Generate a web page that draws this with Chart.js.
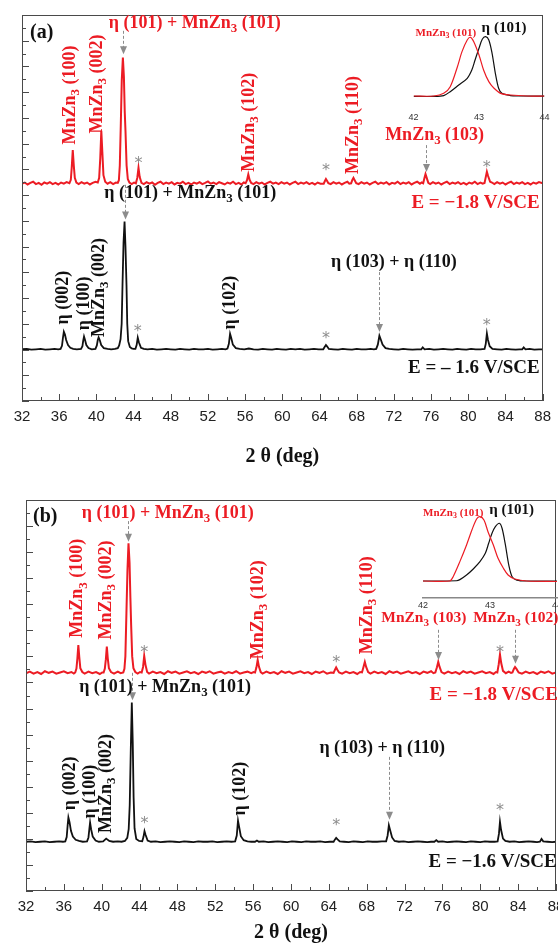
<!DOCTYPE html>
<html><head><meta charset="utf-8">
<script src="https://cdn.jsdelivr.net/npm/chart.js@4.4.1/dist/chart.umd.min.js"></script>
<style>
html,body{margin:0;padding:0;background:#fff;overflow:hidden;width:558px;height:945px;}
#wrap{position:relative;width:558px;height:945px;overflow:hidden;background:#fff;}
canvas{position:absolute;display:block;}
</style></head><body><div id="wrap">
<canvas id="ca" width="558" height="472" style="left:0;top:0;width:558px;height:472px"></canvas>
<canvas id="ia" width="158" height="118" style="left:400px;top:10px;width:158px;height:118px"></canvas>
<canvas id="cb" width="600" height="473" style="left:0;top:472px;width:600px;height:473px"></canvas>
<canvas id="ib" width="170" height="118" style="left:400px;top:495px;width:170px;height:118px"></canvas>
</div>
<script>
// ---------------- DATA (2θ in degrees, intensity in arbitrary offset units) ----------------
const xTicksMain = [32,36,40,44,48,52,56,60,64,68,72,76,80,84,88];
const xTicksInset = [42,43,44];

// Panel (a), E = -1.8 V/SCE (red)
const redA = [[32.0,56.3],[32.3,56.6],[32.6,56.1],[32.9,56.5],[33.2,56.8],[33.5,56.2],[33.8,56.5],[34.1,56.0],[34.4,56.6],[34.7,56.3],[35.0,56.7],[35.3,56.2],[35.6,56.5],[35.9,56.1],[36.2,56.6],[36.5,56.3],[36.8,56.7],
[37.1,56.4],[37.25,57.3],[37.35,60.5],[37.46,65.0],[37.57,61.0],[37.68,57.8],[37.85,56.6],[38.1,56.2],[38.4,56.7],[38.7,56.3],[39.0,56.6],[39.3,56.1],[39.6,56.5],[39.9,56.8],
[40.15,56.6],[40.3,57.8],[40.42,63.0],[40.53,70.0],[40.64,64.5],[40.76,58.5],[40.95,56.8],[41.2,56.3],[41.5,56.7],[41.8,56.2],[42.1,56.6],
[42.3,56.5],[42.42,57.2],[42.52,61.0],[42.63,72.0],[42.73,83.0],[42.85,89.0],[42.96,84.0],[43.05,75.0],[43.13,70.0],[43.25,61.0],[43.38,57.5],[43.55,56.6],[43.8,56.2],[44.05,56.6],
[44.25,56.4],[44.4,57.8],[44.53,60.4],[44.66,58.0],[44.85,56.5],[45.1,56.2],[45.4,56.7],[45.7,56.3],[46.0,56.6],[46.3,56.0],[46.6,56.5],[46.9,56.8],[47.2,56.2],[47.5,56.6],[47.8,56.3],[48.1,56.7],[48.4,56.1],[48.7,56.5],[49.0,56.3],[49.3,56.8],[49.6,56.2],[49.9,56.5],[50.2,56.1],[50.5,56.6],[50.8,56.3],[51.1,56.7],[51.4,56.2],[51.7,56.5],[52.0,56.9],[52.3,56.3],[52.6,56.6],[52.9,56.2],[53.2,56.7],[53.5,56.4],[53.8,56.1],[54.1,56.6],[54.4,56.3],[54.7,56.8],[55.0,56.2],[55.3,56.5],[55.6,56.1],[55.85,56.6],
[56.05,56.4],[56.2,57.2],[56.34,58.7],[56.48,57.3],[56.65,56.5],[56.9,56.2],[57.2,56.7],[57.5,56.3],[57.8,56.6],[58.1,56.1],[58.4,56.5],[58.7,56.8],[59.0,56.3],[59.3,56.6],[59.6,56.2],[59.9,56.7],[60.2,56.3],[60.5,56.6],[60.8,56.1],[61.1,56.5],[61.4,56.8],[61.7,56.2],[62.0,56.6],[62.3,56.3],[62.6,56.7],[62.9,56.2],[63.2,56.5],[63.5,56.1],[63.8,56.6],[64.1,56.3],
[64.45,56.3],[64.58,57.0],[64.69,57.5],[64.82,57.0],[64.95,56.4],[65.2,56.2],[65.5,56.7],[65.8,56.3],[66.1,56.6],[66.4,56.1],[66.7,56.5],[67.0,56.8],[67.2,56.3],
[67.4,56.4],[67.53,57.3],[67.65,57.8],[67.78,57.2],[67.95,56.4],[68.2,56.2],[68.5,56.7],[68.8,56.3],[69.1,56.6],[69.4,56.1],[69.7,56.5],[70.0,56.8],[70.3,56.2],[70.6,56.6],[70.9,56.3],[71.2,56.7],[71.5,56.1],[71.8,56.5],[72.1,56.3],[72.4,56.8],[72.7,56.2],[73.0,56.6],[73.3,56.3],[73.6,56.7],[73.9,56.1],[74.2,56.5],[74.5,56.8],[74.8,56.3],[75.0,56.6],
[75.15,56.4],[75.28,57.7],[75.4,58.8],[75.53,57.8],[75.7,56.5],[75.9,56.2],[76.2,56.7],[76.5,56.3],[76.8,56.6],[77.1,56.1],[77.4,56.5],[77.7,56.8],[78.0,56.2],[78.3,56.6],[78.6,56.3],[78.9,56.7],[79.2,56.2],[79.5,56.5],[79.8,56.1],[80.1,56.6],[80.4,56.3],[80.7,56.8],[81.0,56.2],[81.3,56.6],[81.55,56.3],
[81.75,56.5],[81.88,58.0],[82.0,59.4],[82.13,58.3],[82.35,56.8],[82.55,56.6],[82.8,56.2],[83.1,56.7],[83.4,56.3],[83.7,56.6],[84.0,56.1],[84.3,56.5],[84.6,56.8],[84.9,56.2],[85.2,56.6],[85.5,56.3],[85.8,56.7],[86.1,56.2],[86.4,56.5],[86.7,56.1],[87.0,56.6],[87.3,56.3],[87.6,56.7],[88.0,56.4]];

// Panel (a), E = -1.6 V/SCE (black)
const blackA = [[32.0,13.4],[32.5,13.5],[33.0,13.3],[33.5,13.4],[34.0,13.5],[34.5,13.3],[35.0,13.4],[35.5,13.5],[35.9,13.4],
[36.15,13.5],[36.3,14.3],[36.4,16.3],[36.5,17.95],[36.62,17.2],[36.75,15.8],[36.95,14.5],[37.2,13.8],[37.5,13.5],[37.9,13.4],
[38.35,13.5],[38.5,14.2],[38.58,15.6],[38.67,16.7],[38.78,15.8],[38.92,14.5],[39.15,13.7],[39.5,13.4],
[39.9,13.5],[40.05,14.4],[40.15,15.8],[40.24,16.5],[40.36,15.8],[40.52,14.5],[40.8,13.7],[41.2,13.5],[41.6,13.4],[42.0,13.5],
[42.3,13.7],[42.45,14.4],[42.6,16.0],[42.72,20.0],[42.81,30.0],[42.92,41.0],[43.03,46.5],[43.13,40.0],[43.24,30.0],[43.32,20.0],[43.42,15.5],[43.6,14.0],[43.8,13.6],[44.0,13.5],
[44.2,13.5],[44.33,14.5],[44.45,16.4],[44.57,15.2],[44.8,13.8],[45.1,13.5],[45.5,13.4],[46.0,13.5],[46.5,13.3],[47.0,13.4],[47.5,13.5],[48.0,13.4],[48.5,13.3],[49.0,13.5],[49.5,13.4],[50.0,13.3],[50.5,13.5],[51.0,13.4],[51.5,13.4],[52.0,13.5],[52.5,13.3],[53.0,13.4],[53.5,13.5],[53.9,13.4],
[54.1,13.6],[54.25,14.8],[54.38,17.4],[54.5,16.4],[54.68,14.6],[55.0,13.7],[55.4,13.5],[55.9,13.4],[56.4,13.6],[56.9,13.4],[57.4,13.3],[57.9,13.5],[58.4,13.4],[58.9,13.3],[59.4,13.5],[59.9,13.4],[60.4,13.3],[60.9,13.5],[61.4,13.4],[61.9,13.5],[62.4,13.3],[62.9,13.4],[63.4,13.5],[63.9,13.4],
[64.4,13.4],[64.55,14.0],[64.69,14.5],[64.83,14.1],[65.0,13.5],[65.5,13.4],[66.0,13.3],[66.5,13.5],[67.0,13.4],[67.5,13.3],[68.0,13.5],[68.5,13.4],[69.0,13.4],[69.5,13.5],[69.85,13.4],
[70.1,13.5],[70.27,14.6],[70.44,16.9],[70.58,16.0],[70.78,14.6],[71.1,13.7],[71.5,13.5],[72.0,13.4],[72.5,13.3],[73.0,13.5],[73.5,13.4],[74.0,13.3],[74.5,13.4],
[74.95,13.4],[75.1,13.9],[75.3,13.4],[75.8,13.5],[76.3,13.3],[76.8,13.4],[77.3,13.5],[77.8,13.4],[78.3,13.3],[78.8,13.5],[79.3,13.4],[79.8,13.3],[80.3,13.5],[80.8,13.4],[81.3,13.4],
[81.75,13.5],[81.88,14.8],[82.0,17.5],[82.12,15.8],[82.3,14.2],[82.6,13.5],[83.1,13.4],[83.6,13.3],[84.1,13.5],[84.6,13.4],[85.1,13.3],[85.5,13.4],
[85.8,13.4],[85.96,13.9],[86.15,13.4],[86.6,13.5],[87.1,13.3],[87.6,13.4],[88.0,13.4]];

// Panel (b), E = -1.8 V/SCE (red)
const redB = [[32.0,55.7],[32.4,56.1],[32.8,55.6],[33.2,56.0],[33.6,55.5],[34.0,56.2],[34.4,55.8],[34.8,56.1],[35.2,55.6],[35.6,55.9],[36.0,56.2],[36.4,55.7],[36.8,56.0],[37.05,55.6],
[37.2,55.9],[37.33,56.9],[37.43,59.5],[37.53,62.9],[37.63,59.8],[37.74,57.0],[37.95,56.0],[38.2,55.6],[38.6,56.1],[39.0,55.7],[39.4,56.0],[39.8,55.5],[40.05,55.9],
[40.2,55.9],[40.33,56.9],[40.44,59.3],[40.54,62.5],[40.64,59.5],[40.76,57.0],[40.98,56.0],[41.3,55.6],[41.7,56.1],[42.0,55.7],
[42.28,55.9],[42.4,56.8],[42.5,60.0],[42.61,71.0],[42.72,82.0],[42.83,88.9],[42.94,84.0],[43.03,75.0],[43.11,68.0],[43.22,60.0],[43.35,57.0],[43.55,56.0],[43.8,55.6],[44.05,56.0],
[44.22,55.9],[44.37,57.3],[44.49,60.1],[44.62,57.9],[44.8,56.0],[45.0,55.6],[45.4,56.1],[45.8,55.7],[46.2,56.0],[46.6,55.5],[47.0,56.2],[47.4,55.8],[47.8,56.1],[48.2,55.6],[48.6,55.9],[49.0,56.2],[49.4,55.7],[49.8,56.0],[50.2,55.5],[50.6,56.1],[51.0,55.8],[51.4,56.2],[51.8,55.6],[52.2,55.9],[52.6,56.1],[53.0,55.6],[53.4,56.0],[53.8,55.7],[54.2,56.2],[54.6,55.6],[55.0,55.9],[55.4,56.1],[55.8,55.7],[56.05,56.0],
[56.2,55.9],[56.35,57.2],[56.48,59.1],[56.61,57.4],[56.8,56.0],[57.0,55.6],[57.4,56.1],[57.8,55.7],[58.2,56.0],[58.6,55.5],[59.0,56.2],[59.4,55.8],[59.8,56.1],[60.2,55.6],[60.6,55.9],[61.0,56.2],[61.4,55.7],[61.8,56.0],[62.2,55.5],[62.6,56.1],[63.0,55.8],[63.4,56.2],[63.8,55.6],[64.2,55.9],
[64.5,55.8],[64.65,56.6],[64.77,57.2],[64.9,56.6],[65.08,55.9],[65.4,55.6],[65.8,56.1],[66.2,55.7],[66.6,56.0],[67.0,55.5],[67.3,56.0],
[67.5,55.9],[67.66,57.3],[67.8,58.6],[67.94,57.3],[68.15,56.0],[68.4,55.6],[68.8,56.1],[69.2,55.7],[69.6,56.0],[70.0,55.5],[70.4,56.2],[70.8,55.8],[71.2,56.1],[71.6,55.6],[72.0,55.9],[72.4,56.2],[72.8,55.7],[73.2,56.0],[73.6,55.5],[74.0,56.1],[74.4,55.8],[74.8,56.2],[75.05,55.7],
[75.25,55.9],[75.42,57.2],[75.56,58.6],[75.7,57.3],[75.9,56.0],[76.2,55.6],[76.6,56.1],[77.0,55.7],[77.4,56.0],[77.8,55.5],[78.2,56.2],[78.6,55.8],[79.0,56.1],[79.4,55.6],[79.8,55.9],[80.2,56.2],[80.6,55.7],[81.0,56.0],[81.4,55.5],[81.65,56.0],
[81.8,55.9],[81.95,58.0],[82.08,60.5],[82.21,58.3],[82.4,56.3],[82.7,55.7],[83.0,56.1],[83.25,55.8],
[83.4,55.9],[83.55,56.8],[83.67,57.3],[83.82,56.8],[84.05,55.9],[84.4,55.6],[84.8,56.1],[85.2,55.7],[85.6,56.0],[86.0,55.5],[86.4,56.1],[86.8,55.8],[87.2,56.2],[87.6,55.6],[88.0,55.9]];

// Panel (b), E = -1.6 V/SCE (black)
const blackB = [[32.0,12.6],[32.5,12.7],[33.0,12.5],[33.5,12.6],[34.0,12.7],[34.5,12.5],[35.0,12.6],[35.5,12.7],[35.9,12.6],
[36.15,12.7],[36.3,13.8],[36.4,16.8],[36.48,18.8],[36.6,17.6],[36.75,15.4],[36.95,13.9],[37.25,13.1],[37.6,12.8],[38.0,12.6],
[38.45,12.7],[38.6,13.7],[38.69,15.8],[38.77,17.5],[38.88,15.8],[39.05,13.9],[39.35,12.9],[39.7,12.6],
[40.15,12.7],[40.47,13.4],[40.8,12.8],[41.2,12.6],[41.7,12.7],[42.1,12.6],
[42.45,12.8],[42.7,13.6],[42.85,15.8],[42.96,22.0],[43.07,36.0],[43.18,48.2],[43.28,38.0],[43.37,24.0],[43.47,16.0],[43.65,13.3],[43.95,12.8],
[44.28,12.7],[44.41,13.8],[44.52,15.3],[44.64,14.3],[44.85,12.9],[45.2,12.6],[45.7,12.7],[46.2,12.5],[46.7,12.6],[47.2,12.7],[47.7,12.6],[48.2,12.5],[48.7,12.7],[49.2,12.6],[49.7,12.5],[50.2,12.7],[50.7,12.6],[51.2,12.6],[51.7,12.7],[52.2,12.5],[52.7,12.6],[53.2,12.7],[53.7,12.6],
[54.1,12.7],[54.27,14.2],[54.4,18.0],[54.52,16.4],[54.7,14.0],[55.0,13.0],[55.4,12.7],[55.8,12.6],
[56.2,12.6],[56.4,12.9],[56.6,12.6],[57.1,12.7],[57.6,12.5],[58.1,12.6],[58.6,12.7],[59.1,12.6],[59.6,12.5],[60.1,12.7],[60.6,12.6],[61.1,12.5],[61.6,12.7],[62.1,12.6],[62.6,12.6],[63.1,12.7],[63.6,12.5],[64.1,12.6],
[64.5,12.6],[64.65,13.2],[64.77,13.6],[64.92,13.2],[65.15,12.7],[65.6,12.6],[66.1,12.5],[66.6,12.7],[67.1,12.6],[67.6,12.5],[68.1,12.7],[68.6,12.6],[69.1,12.6],[69.6,12.7],
[70.05,12.7],[70.21,14.2],[70.34,16.8],[70.47,15.6],[70.68,13.7],[70.95,12.8],[71.4,12.6],[71.9,12.7],[72.4,12.5],[72.9,12.6],[73.4,12.7],[73.9,12.6],[74.4,12.5],[74.8,12.6],
[75.15,12.6],[75.35,13.0],[75.55,12.6],[76.0,12.7],[76.5,12.5],[77.0,12.6],[77.5,12.7],[78.0,12.6],[78.5,12.5],[79.0,12.7],[79.5,12.6],[80.0,12.5],[80.5,12.7],[81.0,12.6],[81.5,12.6],
[81.83,12.7],[81.97,14.6],[82.08,17.7],[82.2,15.6],[82.4,13.4],[82.65,12.8],[83.1,12.6],[83.6,12.7],[84.1,12.5],[84.6,12.6],[85.1,12.7],[85.6,12.6],[86.0,12.5],
[86.3,12.6],[86.47,13.3],[86.65,12.7],[87.1,12.6],[87.6,12.5],[88.0,12.6]];

// Insets: zoom on the (101) reflection, 42-44°
const insetA_red = [[42.0,9.5],[42.31,9.5],[42.46,12.7],[42.56,20.6],[42.67,44.4],[42.74,62.3],[42.82,76.2],[42.87,79.4],[42.92,74.2],[43.0,58.3],[43.07,40.5],[43.15,26.6],[43.23,18.7],[43.33,12.7],[43.48,10.7],[43.74,9.5],[44.0,9.5]];
const insetA_black = [[42.0,9.0],[42.3,9.0],[42.46,10.0],[42.56,14.7],[42.69,22.6],[42.82,30.6],[42.89,40.5],[42.94,52.4],[43.0,66.3],[43.05,77.0],[43.1,80.1],[43.15,76.2],[43.2,60.3],[43.25,36.5],[43.3,18.7],[43.35,12.7],[43.48,10.0],[43.6,9.5],[44.0,9.3]];
const insetB_red = [[42.0,18.0],[42.4,18.0],[42.45,22.7],[42.55,38.9],[42.65,56.9],[42.73,73.0],[42.8,84.9],[42.85,87.4],[42.91,83.8],[42.97,71.2],[43.05,56.9],[43.12,42.5],[43.2,31.7],[43.27,24.5],[43.37,20.2],[43.55,18.0],[44.0,17.5]];
const insetB_black = [[42.0,18.0],[42.5,18.3],[42.55,19.5],[42.65,24.5],[42.75,31.0],[42.85,38.9],[42.93,47.9],[42.98,58.7],[43.03,69.5],[43.08,76.6],[43.14,80.3],[43.18,74.9],[43.23,56.9],[43.28,35.3],[43.33,22.7],[43.4,19.0],[43.55,18.0],[44.0,18.0]];

// Annotation texts: [text, x(2θ), y, colour key, size key, align, rotated]
const labelsA = [
 ['(a)',32.86,95.3,'k','panel','left',0],
 ['η (101) + MnZn_3 (101)',50.58,97.9,'r','lab','center',0],
 ['MnZn_3 (100)',37.21,79.3,'r','lab','center',1],
 ['MnZn_3 (002)',40.14,82.1,'r','lab','center',1],
 ['MnZn_3 (102)',56.41,72.2,'r','lab','center',1],
 ['MnZn_3 (110)',67.65,71.5,'r','lab','center',1],
 ['MnZn_3 (103)',76.38,68.9,'r','lab','center',0],
 ['E = −1.8 V/SCE',87.68,51.3,'r','pot','right',0],
 ['η (101) + MnZn_3 (101)',50.1,53.9,'k','lab','center',0],
 ['η (002)',36.42,26.8,'k','lab','center',1],
 ['η (100)',38.67,25.3,'k','lab','center',1],
 ['MnZn_3 (002)',40.35,29.4,'k','lab','center',1],
 ['η (102)',54.38,25.5,'k','lab','center',1],
 ['η (103) + η (110)',71.99,36.0,'k','lab','center',0],
 ['E = – 1.6 V/SCE',87.68,8.5,'k','pot','right',0]
];
const labelsB = [
 ['(b)',32.74,95.7,'k','panel','left',0],
 ['η (101) + MnZn_3 (101)',46.97,96.7,'r','lab','center',0],
 ['MnZn_3 (100)',37.47,77.4,'r','lab','center',1],
 ['MnZn_3 (002)',40.47,77.0,'r','lab','center',1],
 ['MnZn_3 (102)',56.55,71.9,'r','lab','center',1],
 ['MnZn_3 (110)',68.05,73.1,'r','lab','center',1],
 ['MnZn_3 (103)',74.04,69.8,'r','labS','center',0],
 ['MnZn_3 (102)',83.75,69.8,'r','labS','center',0],
 ['E = −1.8 V/SCE',88.19,50.1,'r','pot','right',0],
 ['η (101) + MnZn_3 (101)',46.7,52.2,'k','lab','center',0],
 ['η (002)',36.66,27.5,'k','lab','center',1],
 ['η (100)',38.77,25.4,'k','lab','center',1],
 ['MnZn_3 (002)',40.47,27.5,'k','lab','center',1],
 ['η (102)',54.65,26.2,'k','lab','center',1],
 ['η (103) + η (110)',69.64,36.6,'k','lab','center',0],
 ['E = −1.6 V/SCE',88.08,7.4,'k','pot','right',0]
];
const insetLabelsA = [['MnZn_3 (101)',42.03,84.5,'r','insS','left',0],['η (101)',43.04,90.5,'k','insL','left',0]];
const insetLabelsB = [['MnZn_3 (101)',42.0,91.3,'r','insS','left',0],['η (101)',42.99,94.6,'k','insL','left',0]];

// Dashed arrows: [x, from y, to y]
const arrowsA = [[42.9,95.9,89.8],[75.4,66.3,59.3],[43.03,56.0,47.0],[70.44,33.4,17.9]];
const arrowsB = [[42.83,94.6,89.3],[75.56,66.8,59.1],[83.67,66.8,58.1],[43.18,55.8,48.8],[70.34,34.3,18.2]];
// Asterisks (substrate peaks): [x, y]
const starsA = [[44.53,62.4],[64.69,60.6],[82.0,61.4],[44.45,18.9],[64.69,17.1],[82.0,20.5]];
const starsB = [[44.49,61.9],[64.77,59.3],[82.08,61.9],[44.52,18.2],[64.77,17.6],[82.08,21.5]];

// ---------------- STYLE ----------------
const COL = {r:'#ec1c24', k:'#111111'};
const GRAY = '#8c8c8c', AXIS = '#4a4a4a';
const SERIF = '"Liberation Serif", "Times New Roman", serif';
const SANS = '"Liberation Sans", Arial, sans-serif';
const SIZE = {panel:20, lab:18, labS:15.5, pot:19, insS:11, insL:15};

function toXY(a){ return a.map(p => ({x:p[0], y:p[1]})); }

function richParts(str){
  const parts=[]; const re=/_(\d)/g; let last=0, m;
  while((m=re.exec(str))){ if(m.index>last) parts.push({t:str.slice(last,m.index),sub:false}); parts.push({t:m[1],sub:true}); last=re.lastIndex; }
  if(last<str.length) parts.push({t:str.slice(last),sub:false});
  return parts;
}
function drawRich(ctx, str, x, y, size, color, align, rot){
  ctx.save(); ctx.translate(x,y); if(rot) ctx.rotate(-Math.PI/2);
  const parts = richParts(str);
  const fM = `bold ${size}px ${SERIF}`, fS = `bold ${size*0.72}px ${SERIF}`;
  let w=0; parts.forEach(p=>{ ctx.font=p.sub?fS:fM; p.w=ctx.measureText(p.t).width; w+=p.w; });
  let cx = align==='left'?0:(align==='right'?-w:-w/2);
  ctx.fillStyle=color; ctx.textBaseline='middle'; ctx.textAlign='left';
  parts.forEach(p=>{ ctx.font=p.sub?fS:fM; ctx.fillText(p.t,cx,p.sub?size*0.3:0); cx+=p.w; });
  ctx.restore();
}

const annPlugin = {
  id:'ann',
  afterDatasetsDraw(chart, args, o){
    const ctx=chart.ctx, xs=chart.scales.x, ys=chart.scales.y, a=chart.chartArea;
    ctx.save();
    if(o.frame){
      ctx.strokeStyle=AXIS; ctx.lineWidth=1;
      ctx.strokeRect(Math.round(a.left)+0.5, Math.round(a.top)+0.5, Math.round(a.right-a.left)-1, Math.round(a.bottom-a.top)-1);
    }
    if(o.ticks){
      ctx.strokeStyle=AXIS; ctx.lineWidth=1; ctx.beginPath();
      let i=0;
      for(let v=xs.min; v<=xs.max+1e-9; v+=o.ticks.xStep, i++){
        const px=Math.round(xs.getPixelForValue(v))+0.5; const len=(i%2===0)?7:4;
        ctx.moveTo(px,a.bottom); ctx.lineTo(px,a.bottom-len);
      }
      for(let j=0;j<=o.ticks.yCount;j++){
        const py=Math.round(ys.getPixelForValue(ys.min+(ys.max-ys.min)*j/o.ticks.yCount))+0.5; const len=(j%2===0)?7:4;
        ctx.moveTo(a.left,py); ctx.lineTo(a.left+len,py);
      }
      ctx.stroke();
    }
    (o.arrows||[]).forEach(([x,y1,y2])=>{
      const px=Math.round(xs.getPixelForValue(x))+0.5, p1=ys.getPixelForValue(y1), p2=ys.getPixelForValue(y2);
      ctx.strokeStyle=GRAY; ctx.lineWidth=1; ctx.setLineDash([3,2]);
      ctx.beginPath(); ctx.moveTo(px,p1); ctx.lineTo(px,p2-7); ctx.stroke(); ctx.setLineDash([]);
      ctx.fillStyle=GRAY; ctx.beginPath(); ctx.moveTo(px-3.5,p2-8); ctx.lineTo(px+3.5,p2-8); ctx.lineTo(px,p2); ctx.closePath(); ctx.fill();
    });
    if(o.stars){
      ctx.font=`16px "DejaVu Sans"`; ctx.fillStyle=GRAY; ctx.textAlign='center'; ctx.textBaseline='alphabetic';
      const m=ctx.measureText('*'); const off=(m.actualBoundingBoxAscent-m.actualBoundingBoxDescent)/2;
      o.stars.forEach(([x,y])=>ctx.fillText('*', xs.getPixelForValue(x), ys.getPixelForValue(y)+off));
    }
    (o.labels||[]).forEach(([t,x,y,c,s,al,rot])=>drawRich(ctx,t,xs.getPixelForValue(x),ys.getPixelForValue(y),SIZE[s],COL[c],al,rot));
    ctx.restore();
  }
};

function mainChart(id, red, black, pad, axisH, titlePad, ann){
  return new Chart(document.getElementById(id), {
    type:'line',
    data:{datasets:[
      {data:toXY(red), borderColor:COL.r, borderWidth:2, pointRadius:0, tension:0, fill:false},
      {data:toXY(black), borderColor:COL.k, borderWidth:1.8, pointRadius:0, tension:0, fill:false}
    ]},
    options:{
      responsive:false, animation:false, events:[],
      layout:{padding:pad},
      plugins:{legend:{display:false}, tooltip:{enabled:false}, ann:ann},
      scales:{
        x:{type:'linear', min:xTicksMain[0], max:xTicksMain[xTicksMain.length-1],
           afterBuildTicks:s=>{ s.ticks = xTicksMain.map(v=>({value:v})); },
           ticks:{autoSkip:false, maxRotation:0, padding:7, color:'#222', font:{family:SANS, size:15}},
           grid:{display:false, drawTicks:false},
           border:{display:false},
           title:{display:true, text:'2 θ (deg)', color:'#111', font:{family:SERIF, size:20, weight:'bold'}, padding:{top:0,bottom:titlePad}},
           afterFit:s=>{ s.height=axisH; }
        },
        y:{min:0, max:100, ticks:{display:false}, grid:{display:false, drawTicks:false}, border:{display:false},
           afterFit:s=>{ s.width=0; }}
      }
    },
    plugins:[annPlugin]
  });
}

function insetChart(id, red, black, pad, axisH, tickPad, showAxis, labels){
  return new Chart(document.getElementById(id), {
    type:'line',
    data:{datasets:[
      {data:toXY(red), borderColor:COL.r, borderWidth:1.2, pointRadius:0, tension:0.3, fill:false},
      {data:toXY(black), borderColor:COL.k, borderWidth:1.2, pointRadius:0, tension:0.3, fill:false}
    ]},
    options:{
      responsive:false, animation:false, events:[],
      layout:{padding:pad},
      plugins:{legend:{display:false}, tooltip:{enabled:false}, ann:{labels:labels}},
      scales:{
        x:{type:'linear', min:xTicksInset[0], max:xTicksInset[xTicksInset.length-1],
           afterBuildTicks:s=>{ s.ticks = xTicksInset.map(v=>({value:v})); },
           ticks:{autoSkip:false, maxRotation:0, padding:tickPad, color:'#333', font:{family:SANS, size:9}},
           grid:{display:false, drawTicks:false},
           border:{display:showAxis, color:'#888', width:1.5},
           afterFit:s=>{ s.height=axisH; }
        },
        y:{min:0, max:100, ticks:{display:false}, grid:{display:false, drawTicks:false}, border:{display:false},
           afterFit:s=>{ s.width=0; }}
      }
    },
    plugins:[annPlugin]
  });
}

mainChart('ca', redA, blackA, {left:22,right:13,top:15,bottom:0}, 71, 3,
  {frame:true, ticks:{xStep:2, yCount:30}, arrows:arrowsA, stars:starsA, labels:labelsA});
mainChart('cb', redB, blackB, {left:26,right:44,top:28,bottom:0}, 54, 0,
  {frame:true, ticks:{xStep:2, yCount:30}, arrows:arrowsB, stars:starsB, labels:labelsB});
insetChart('ia', insetA_red, insetA_black, {left:13,right:13,top:10,bottom:0}, 24, 8.6, false, insetLabelsA);
insetChart('ib', insetB_red, insetB_black, {left:23,right:13,top:10,bottom:0}, 15.3, 2, true, insetLabelsB);
</script>
</body></html>
